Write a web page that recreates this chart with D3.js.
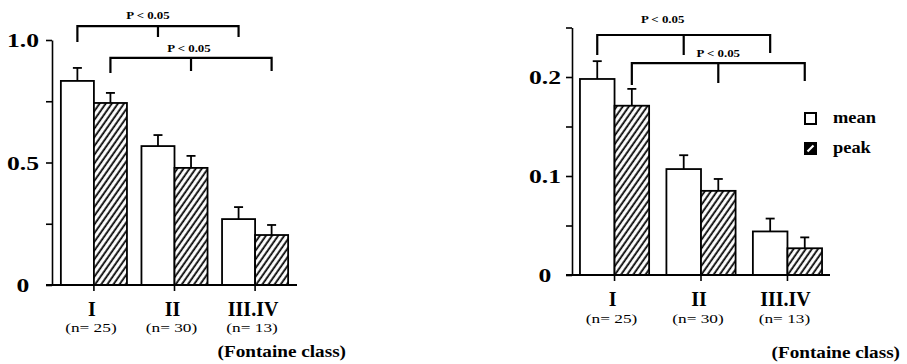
<!DOCTYPE html>
<html>
<head>
<meta charset="utf-8">
<title>Fontaine class</title>
<style>
  * { margin: 0; padding: 0 }
  body { background: #fff; }
  svg text { font-family: "Liberation Serif", "Times New Roman", serif; fill: #000; }
</style>
</head>
<body>
<svg id="chart" width="907" height="364"></svg>
<script src="https://cdn.jsdelivr.net/npm/d3@7"></script>
<script>
// categories
const classes = ["I", "II", "III.IV"];
const counts = ["(n= 25)", "(n= 30)", "(n= 13)"];
const seriesNames = ["mean", "peak"];
const pLabel = "P < 0.05";
const xTitle = "(Fontaine class)";

// left panel values (bar height, upper error)
const leftMean = [0.833, 0.567, 0.269];
const leftMeanErr = [0.053, 0.045, 0.049];
const leftPeak = [0.743, 0.478, 0.204];
const leftPeakErr = [0.041, 0.049, 0.041];
const leftTicks = [0, 0.25, 0.5, 0.75, 1.0];
const leftTickLabels = ["0", "", "0.5", "", "1.0"];

// right panel values
const rightMean = [0.198, 0.107, 0.044];
const rightMeanErr = [0.018, 0.014, 0.013];
const rightPeak = [0.171, 0.085, 0.027];
const rightPeakErr = [0.017, 0.012, 0.011];
const rightTicks = [0, 0.05, 0.1, 0.15, 0.2, 0.25];
const rightTickLabels = ["0", "", "0.1", "", "0.2", ""];

const svg = d3.select("#chart");

// hatch pattern for "peak"
const defs = svg.append("defs");
const pat = defs.append("pattern")
    .attr("id", "hatch")
    .attr("patternUnits", "userSpaceOnUse")
    .attr("width", 5)
    .attr("height", 10)
    .attr("patternTransform", "rotate(35)");
pat.append("rect").attr("width", 5).attr("height", 10).attr("fill", "#fff");
pat.append("line")
    .attr("x1", 1.2).attr("x2", 1.2).attr("y1", -1).attr("y2", 11)
    .attr("stroke", "#000").attr("stroke-width", 1.8);

const fillOf = s => s === "mean" ? "#fff" : "url(#hatch)";

// text stretched horizontally (the scanned figure is wider than tall)
const stretched = (sel, px, py, sx) => sel.attr("transform", `translate(${px},${py}) scale(${sx},1)`);

const drawPanel = (cfg, mean, meanErr, peak, peakErr, ticks, tickLabels) => {
    const y = d3.scaleLinear().domain([0, cfg.max]).range([cfg.y0, cfg.y1]);
    const x = d3.scaleBand().domain(classes).range([cfg.x0, cfg.x1])
        .paddingInner(cfg.padIn).paddingOuter(cfg.padOut);
    const xs = d3.scaleBand().domain(seriesNames).range([0, x.bandwidth()]);
    const rows = classes.map((c, i) => ({
        c: c,
        n: counts[i],
        vals: [
            { s: "mean", v: mean[i], e: meanErr[i] },
            { s: "peak", v: peak[i], e: peakErr[i] }
        ]
    }));
    const g = svg.append("g");

    // bars and error bars
    const grp = g.selectAll(".grp").data(rows).join("g")
        .attr("class", "grp")
        .attr("transform", d => `translate(${x(d.c)},0)`);
    const bar = grp.selectAll(".bar").data(d => d.vals).join("g").attr("class", "bar");
    bar.append("line")
        .attr("x1", d => xs(d.s) + xs.bandwidth() / 2)
        .attr("x2", d => xs(d.s) + xs.bandwidth() / 2)
        .attr("y1", d => y(d.v))
        .attr("y2", d => y(d.v + d.e))
        .attr("stroke", "#000").attr("stroke-width", 1.8);
    bar.append("line")
        .attr("x1", d => xs(d.s) + xs.bandwidth() / 2 - 4.5)
        .attr("x2", d => xs(d.s) + xs.bandwidth() / 2 + 4.5)
        .attr("y1", d => y(d.v + d.e))
        .attr("y2", d => y(d.v + d.e))
        .attr("stroke", "#000").attr("stroke-width", 1.8);
    bar.append("rect")
        .attr("x", d => xs(d.s))
        .attr("y", d => y(d.v))
        .attr("width", xs.bandwidth())
        .attr("height", d => y(0) - y(d.v))
        .attr("fill", d => fillOf(d.s))
        .attr("stroke", "#000").attr("stroke-width", 1.8);

    // y axis
    const yAxis = g.append("g")
        .attr("transform", `translate(${cfg.x0},0)`)
        .call(d3.axisLeft(y).tickValues(ticks).tickSize(6).tickSizeOuter(0)
            .tickFormat((d, i) => tickLabels[i]));
    yAxis.selectAll("path, line").attr("stroke-width", 1.6);
    yAxis.selectAll("text")
        .attr("font-size", 19)
        .attr("font-weight", "bold")
        .attr("text-anchor", "middle")
        .attr("dy", "0.36em")
        .attr("x", null)
        .each(function () { stretched(d3.select(this), cfg.labelX, 0, 1.35); });

    // x axis
    g.append("line")
        .attr("x1", cfg.x0 - 6).attr("x2", cfg.x1)
        .attr("y1", cfg.y0).attr("y2", cfg.y0)
        .attr("stroke", "#000").attr("stroke-width", 1.8);
    g.selectAll(".xtick").data(classes).join("line")
        .attr("class", "xtick")
        .attr("x1", d => x(d) + x.bandwidth() / 2)
        .attr("x2", d => x(d) + x.bandwidth() / 2)
        .attr("y1", cfg.y0).attr("y2", cfg.y0 + 6)
        .attr("stroke", "#000").attr("stroke-width", 1.6);
    g.selectAll(".cat").data(classes).join("text")
        .attr("class", "cat")
        .attr("x", d => x(d) + x.bandwidth() / 2 - 2)
        .attr("y", cfg.catY)
        .attr("text-anchor", "middle")
        .attr("font-size", 20)
        .attr("font-weight", "bold")
        .text(d => d);
    g.selectAll(".cnt").data(rows).join("text")
        .attr("class", "cnt")
        .attr("text-anchor", "middle")
        .attr("font-size", 13)
        .each(function (d) { stretched(d3.select(this), x(d.c) + x.bandwidth() / 2 - 3, cfg.nY, 1.33); })
        .text(d => d.n);
    stretched(g.append("text"), cfg.titleX, cfg.titleY, 1.2)
        .attr("text-anchor", "end")
        .attr("font-size", 16)
        .attr("font-weight", "bold")
        .text(xTitle);

    // significance brackets
    cfg.brackets.forEach(b => {
        const px = classes.map(c => x(c) + xs(b.series) + xs.bandwidth() / 2);
        const yl = y(b.level);
        g.append("path")
            .attr("d", `M${px[0]},${yl + b.drops[0]}V${yl}H${px[2]}V${yl + b.drops[2]}M${px[1]},${yl}V${yl + b.drops[1]}`)
            .attr("fill", "none").attr("stroke", "#000").attr("stroke-width", 2.2);
        stretched(g.append("text"), (px[0] + px[2]) / 2 + b.dx, yl + b.ty, 1.17)
            .attr("text-anchor", "middle")
            .attr("font-size", 11)
            .attr("font-weight", "bold")
            .text(pLabel);
    });

    // legend
    if (cfg.legend) {
        const lg = g.append("g").attr("transform", `translate(${cfg.legend[0]},${cfg.legend[1]})`);
        const item = lg.selectAll("g").data(seriesNames).join("g")
            .attr("transform", (d, i) => `translate(0,${i * 30})`);
        item.append("rect")
            .attr("width", 11).attr("height", 11)
            .attr("fill", d => d === "mean" ? "#fff" : "#000")
            .attr("stroke", "#000").attr("stroke-width", 2);
        item.filter(d => d === "peak").append("line")
            .attr("x1", 2.5).attr("y1", 8.5).attr("x2", 8.5).attr("y2", 2.5)
            .attr("stroke", "#fff").attr("stroke-width", 2.2);
        item.append("text")
            .attr("font-size", 16)
            .attr("font-weight", "bold")
            .each(function () { stretched(d3.select(this), 28, 10, 1.15); })
            .text(d => d);
    }
};

drawPanel({
    x0: 52, x1: 297, y0: 285, y1: 40, max: 1.0,
    padIn: 0.18, padOut: 0.11, labelX: -29,
    catY: 316, nY: 332, titleX: 346, titleY: 357,
    brackets: [
        { series: "mean", level: 1.057, drops: [16, 11, 11], dx: -10, ty: -7 },
        { series: "peak", level: 0.927, drops: [15, 13, 13], dx: -2, ty: -6 }
    ]
}, leftMean, leftMeanErr, leftPeak, leftPeakErr, leftTicks, leftTickLabels);

drawPanel({
    x0: 572, x1: 830, y0: 275, y1: 27.5, max: 0.25,
    padIn: 0.2, padOut: 0.092, labelX: -27,
    catY: 306, nY: 323, titleX: 900, titleY: 358,
    legend: [805, 113],
    brackets: [
        { series: "mean", level: 0.2424, drops: [20, 20, 18], dx: -21, ty: -12 },
        { series: "peak", level: 0.2141, drops: [22, 20, 18], dx: 0, ty: -6 }
    ]
}, rightMean, rightMeanErr, rightPeak, rightPeakErr, rightTicks, rightTickLabels);
</script>
</body>
</html>
